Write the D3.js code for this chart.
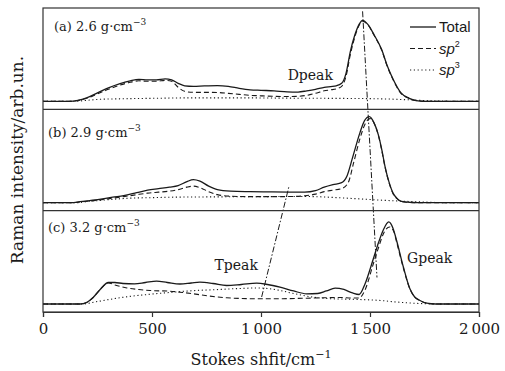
<!DOCTYPE html>
<html>
<head>
<meta charset="utf-8">
<script src="https://cdn.jsdelivr.net/npm/d3@7"></script>
<style>
  body { margin: 0; background: #fff; }
  svg { display: block; }
</style>
</head>
<body>
<svg id="chart"></svg>
<script>
// x axis ticks
const xTicks = [0, 500, 1000, 1500, 2000];
const xTickLabels = ["0", "500", "1\u2009000", "1\u2009500", "2\u2009000"];

const panelNames = ["(a) 2.6 g\u00b7cm", "(b) 2.9 g\u00b7cm", "(c) 3.2 g\u00b7cm"];
const seriesNames = ["Total", "sp2", "sp3"];

// panel (a) 2.6 g/cm3  [shift, intensity]
const aTotal = [[0,0],[120,0],[160,1],[200,3.5],[250,8.5],[300,13.5],[350,17.5],[400,20.5],[440,22],[480,21.5],[520,21.5],[560,22.5],[590,21.5],[620,18],[650,15.5],[690,15],[740,15.5],[800,15.8],[850,15],[900,13],[950,11.5],[1000,11],[1060,10.5],[1120,9.5],[1170,9.3],[1210,10.5],[1250,12],[1290,14],[1320,14.8],[1345,15.5],[1370,18],[1390,28],[1410,50],[1430,66],[1450,77],[1466,81],[1490,77],[1520,66],[1553,52],[1580,35],[1606,22],[1640,9],[1680,3],[1720,0.5],[1760,0],[2000,0]];
const aSp2 = [[0,0],[120,0],[160,0.8],[200,3],[250,7.5],[300,12],[350,16],[400,19],[440,20.5],[480,20],[520,20],[560,21],[590,20],[620,14],[650,10],[690,9],[740,9],[800,8.8],[850,8],[900,7],[950,6],[1000,5.5],[1060,5],[1120,4.8],[1170,5],[1210,6],[1250,8],[1290,10.5],[1320,11.5],[1345,12.5],[1370,15],[1390,25],[1410,47],[1430,64],[1450,76],[1466,80],[1490,76.5],[1520,65.5],[1553,51.5],[1580,34.5],[1606,21.5],[1640,8.5],[1680,2.8],[1720,0.4],[1760,0],[2000,0]];
const aSp3 = [[0,0],[140,0],[200,1],[260,2],[350,2.5],[500,3],[700,3.5],[900,3.5],[1100,3.2],[1300,3],[1450,2.8],[1550,2.5],[1650,1.8],[1750,0.8],[1850,0.2],[1950,0],[2000,0]];

// panel (b) 2.9 g/cm3
const bTotal = [[0,0],[130,0],[170,1],[250,3],[320,5.5],[370,7],[430,10],[480,12.5],[530,14],[580,15.5],[620,17],[660,21],[690,23],[720,21.5],[760,16.5],[800,13],[860,11.5],[950,11],[1050,10.7],[1150,10.5],[1200,10.5],[1250,12],[1290,15.5],[1330,18],[1370,20],[1395,27],[1420,45],[1454,70],[1475,82],[1497,86],[1518,80],[1538,68],[1555,52],[1569,36],[1588,20],[1607,9],[1625,4],[1640,1.5],[1670,0.5],[1720,0],[2000,0]];
const bSp2 = [[0,0],[130,0],[170,0.8],[250,2.5],[320,4.5],[370,6],[430,8],[480,9.5],[530,10.5],[580,11.5],[620,13],[660,15.5],[690,16.5],[720,15],[760,11],[800,8],[860,6.5],[950,6],[1050,6],[1150,6.2],[1200,6.8],[1250,8.5],[1290,11],[1330,12.5],[1370,14],[1400,20],[1425,40],[1454,64],[1478,79],[1500,84],[1520,79],[1540,66],[1555,51],[1569,35.5],[1588,19.5],[1607,8.5],[1625,3.8],[1640,1.4],[1670,0.4],[1720,0],[2000,0]];
const bSp3 = [[0,0],[150,0],[220,1.5],[300,3],[400,4.5],[500,5],[600,5.5],[800,5.8],[1000,6],[1150,6.2],[1250,6],[1350,5],[1450,3.8],[1550,2.5],[1650,1.5],[1750,0.6],[1850,0],[2000,0]];

// panel (c) 3.2 g/cm3
const cTotal = [[0,0],[170,0],[200,1.5],[230,6.5],[260,14],[300,21.5],[330,21.5],[367,20.5],[420,20.2],[470,21.5],[521,22.8],[570,21.5],[628,20],[680,21],[720,21.8],[780,20.5],[842,18.5],[910,19.5],[980,20.8],[1030,19.5],[1087,16.8],[1150,13],[1209,10.2],[1260,10.5],[1300,13],[1340,15.8],[1380,14.5],[1420,11],[1450,9.5],[1477,20],[1515,45],[1540,62],[1561,74],[1586,82],[1605,76],[1622,63.5],[1653,37],[1683,15.2],[1705,7],[1729,3.5],[1760,0.8],[1800,0],[2000,0]];
const cSp2 = [[0,0],[170,0],[200,1.5],[230,6.5],[260,14],[300,21],[330,19],[385,16],[440,14.5],[491,13.5],[583,12.8],[640,11.5],[689,10.2],[760,8],[842,6.2],[910,5.5],[980,5.2],[1100,5.3],[1209,5.8],[1300,6.3],[1362,6.5],[1420,6],[1450,6],[1477,14],[1515,40],[1540,57],[1561,70],[1590,77],[1610,72],[1622,62],[1653,36],[1683,15],[1705,7],[1729,3.5],[1760,0.8],[1800,0],[2000,0]];
const cSp3 = [[0,0],[180,0],[250,2.5],[369,6.8],[480,9.5],[598,11.8],[700,13.5],[782,14.2],[900,15.5],[980,16],[1030,15.5],[1087,13.5],[1160,10],[1240,6.8],[1300,5.5],[1362,5],[1450,4.5],[1550,3.5],[1620,2],[1700,0.8],[1760,0.2],[1800,0],[2000,0]];

// dash-dot guides: [panel, shift, intensity]
const gGuide = [[0, 1466, 90], [2, 1532, 26.5]];
const tGuide = [[2, 1003, 7], [1, 1128, 16]];

// peak labels: [panel, text, shift, intensity, anchor]
const peakLabels = [[0, "Dpeak", 1330, 21, "end"], [2, "Tpeak", 986, 34, "end"], [2, "Gpeak", 1670, 41, "start"]];

const panels = [[aTotal, aSp2, aSp3], [bTotal, bSp2, bSp3], [cTotal, cSp2, cSp3]];

const W = 505, H = 371;
const margin = { top: 8, left: 43, right: 26, bottom: 59 };
const width = W - margin.left - margin.right;
const height = H - margin.top - margin.bottom;
const panelH = height / 3;
const serif = "'DejaVu Serif', serif";
const sans = "'Liberation Sans', Arial, sans-serif";
const ink = "#1a1a1a";
const dashes = [null, "5,3", "1.2,2.6"];
const labelPos = [[11, 23], [5, 28], [5, 21]];

const svg = d3.select("#chart").attr("width", W).attr("height", H);
const g = svg.append("g").attr("transform", `translate(${margin.left},${margin.top})`);

const x = d3.scaleLinear().domain([0, 2000]).range([0, width]);
const yScales = panels.map((p, i) => d3.scaleLinear().domain([-8, 93.3]).range([(i + 1) * panelH, i * panelH]));

const line = d3.line().curve(d3.curveMonotoneX);

panels.forEach((series, i) => {
  const y = yScales[i];
  line.x(d => x(d[0])).y(d => y(d[1]));
  // draw dotted first so solid is on top
  [2, 1, 0].forEach(k => {
    g.append("path")
      .datum(series[k])
      .attr("d", line)
      .attr("fill", "none")
      .attr("stroke", ink)
      .attr("stroke-width", k === 0 ? 1.3 : 1.1)
      .attr("stroke-dasharray", dashes[k]);
  });

  const t = g.append("text")
    .attr("x", labelPos[i][0]).attr("y", i * panelH + labelPos[i][1])
    .attr("font-family", serif).attr("font-size", 13).attr("fill", ink)
    .text(panelNames[i]);
  t.append("tspan").attr("dy", -6).attr("font-size", 9).text("\u22123");
});

// guide lines
[gGuide, tGuide].forEach(gd => {
  g.append("line")
    .attr("x1", x(gd[0][1])).attr("y1", yScales[gd[0][0]](gd[0][2]))
    .attr("x2", x(gd[1][1])).attr("y2", yScales[gd[1][0]](gd[1][2]))
    .attr("stroke", ink).attr("stroke-width", 1)
    .attr("stroke-dasharray", "6,2,1.5,2");
});

peakLabels.forEach(p => {
  g.append("text")
    .attr("x", x(p[2])).attr("y", yScales[p[0]](p[3]))
    .attr("text-anchor", p[4])
    .attr("font-family", serif).attr("font-size", 14).attr("fill", ink)
    .text(p[1]);
});

// frame and separators
g.append("rect").attr("width", width).attr("height", height)
  .attr("fill", "none").attr("stroke", "#333").attr("stroke-width", 1.2);
[1, 2].forEach(i => {
  g.append("line").attr("x1", 0).attr("x2", width)
    .attr("y1", i * panelH).attr("y2", i * panelH)
    .attr("stroke", "#333").attr("stroke-width", 1.2);
});

// x axis
const xAxis = d3.axisBottom(x).tickValues(xTicks)
  .tickFormat((d, i) => xTickLabels[i]).tickSize(5).tickPadding(6);
const xAxisG = g.append("g").attr("transform", `translate(0,${height})`).call(xAxis);
xAxisG.select(".domain").attr("stroke", "#333").attr("stroke-width", 1.2);
xAxisG.selectAll(".tick line").attr("stroke", "#333").attr("stroke-width", 1.2);
xAxisG.selectAll(".tick text").attr("font-family", serif).attr("font-size", 15).attr("fill", ink);

// axis titles
const xt = svg.append("text")
  .attr("x", margin.left + width / 2).attr("y", 365)
  .attr("text-anchor", "middle")
  .attr("font-family", serif).attr("font-size", 16).attr("fill", ink)
  .text("Stokes shfit/cm");
xt.append("tspan").attr("dy", -7).attr("font-size", 11).text("\u22121");

svg.append("text")
  .attr("transform", `translate(23,${margin.top + height / 2}) rotate(-90)`)
  .attr("text-anchor", "middle")
  .attr("font-family", serif).attr("font-size", 17).attr("fill", ink)
  .text("Raman intensity/arb.un.");

// legend
const legend = g.append("g").attr("transform", `translate(${width - 69},19)`);
seriesNames.forEach((name, k) => {
  const row = legend.append("g").attr("transform", `translate(0,${k * 21.5})`);
  row.append("line").attr("x1", 0).attr("x2", 26).attr("y1", 0).attr("y2", 0)
    .attr("stroke", ink).attr("stroke-width", k === 0 ? 1.3 : 1.1)
    .attr("stroke-dasharray", dashes[k]);
  const tx = row.append("text").attr("x", 29).attr("y", 5)
    .attr("font-family", sans).attr("font-size", 15).attr("fill", ink);
  if (k === 0) {
    tx.text(name);
  } else {
    tx.append("tspan").attr("font-style", "italic").text("sp");
    tx.append("tspan").attr("dy", -7).attr("font-size", 9).text(name.slice(2));
  }
});
</script>
</body>
</html>
